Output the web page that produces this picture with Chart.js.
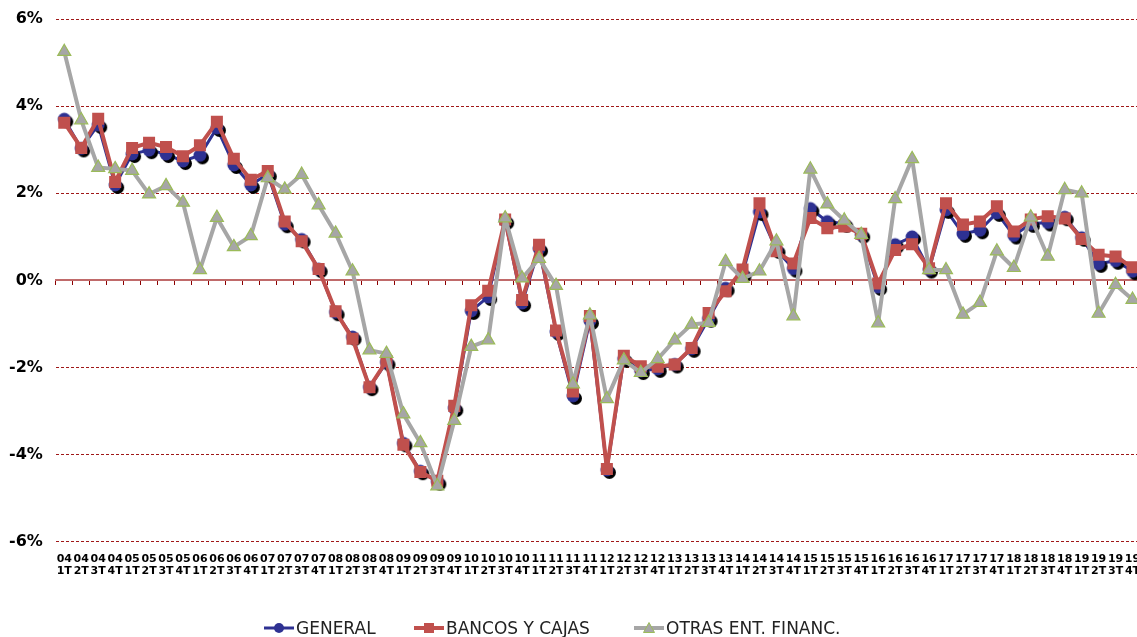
<!DOCTYPE html>
<html>
<head>
<meta charset="utf-8">
<script src="https://cdn.jsdelivr.net/npm/chart.js@4.4.0/dist/chart.umd.min.js"></script>
<style>
  html, body { margin: 0; padding: 0; background: #fff; overflow: hidden; }
  #wrap { position: relative; width: 1150px; height: 637px; }
  #myChart { display: block; }
  #legend { font-family: 'DejaVu Sans', sans-serif; font-size: 17px; color: #222; }
  .item { position: absolute; top: 618px; display: flex; align-items: center; white-space: nowrap; }
  .item canvas { margin-right: 2px; }
</style>
</head>
<body>
<div id="wrap">
  <canvas id="myChart" width="1150" height="637"></canvas>
  <div id="legend"></div>
</div>
<script>
// categories: year + quarter
const years = ['04','05','06','07','08','09','10','11','12','13','14','15','16','17','18','19'];
const quarters = ['1T','2T','3T','4T'];
const categories = years.flatMap(y => quarters.map(q => [y, q]));

const general = [
  3.70, 3.03, 3.57, 2.19, 2.90, 2.99, 2.90, 2.74, 2.87, 3.50, 2.65, 2.19, 2.44, 1.29, 0.94, 0.26,
  -0.73, -1.30, -2.45, -1.88, -3.74, -4.38, -4.62, -2.93, -0.70, -0.38, 1.37, -0.52, 0.73, -1.18, -2.65, -0.93,
  -4.35, -1.80, -2.08, -2.03, -1.93, -1.57, -0.88, -0.18, 0.15, 1.57, 0.70, 0.27, 1.65, 1.35, 1.30, 1.05,
  -0.15, 0.82, 1.00, 0.25, 1.62, 1.07, 1.15, 1.55, 1.03, 1.30, 1.33, 1.45, 0.98, 0.38, 0.45, 0.21
];
const bancos = [
  3.62, 3.04, 3.71, 2.26, 3.04, 3.16, 3.06, 2.85, 3.10, 3.64, 2.79, 2.31, 2.51, 1.35, 0.90, 0.26,
  -0.71, -1.34, -2.45, -1.85, -3.77, -4.40, -4.60, -2.88, -0.57, -0.24, 1.40, -0.45, 0.82, -1.15, -2.55, -0.82,
  -4.33, -1.73, -1.97, -1.98, -1.93, -1.55, -0.75, -0.25, 0.25, 1.77, 0.67, 0.39, 1.43, 1.20, 1.24, 1.07,
  -0.07, 0.70, 0.83, 0.28, 1.77, 1.28, 1.35, 1.70, 1.12, 1.40, 1.47, 1.42, 0.95, 0.59, 0.55, 0.30
];
const otras = [
  5.25, 3.68, 2.59, 2.56, 2.52, 1.98, 2.17, 1.79, 0.24, 1.44, 0.77, 1.02, 2.35, 2.09, 2.43, 1.73,
  1.08, 0.21, -1.60, -1.68, -3.07, -3.73, -4.72, -3.22, -1.52, -1.37, 1.43, 0.05, 0.50, -0.12, -2.38, -0.80,
  -2.72, -1.83, -2.12, -1.80, -1.37, -1.01, -0.97, 0.43, 0.04, 0.21, 0.90, -0.82, 2.55, 1.75, 1.38, 1.05,
  -0.98, 1.87, 2.79, 0.24, 0.24, -0.78, -0.51, 0.67, 0.29, 1.45, 0.55, 2.08, 2.00, -0.76, -0.10, -0.44
];
const seriesNames = ['GENERAL', 'BANCOS Y CAJAS', 'OTRAS ENT. FINANC.'];

const BLUE = '#2e3192', RED = '#c0504d', GREY = '#a6a6a6', GREEN = '#9bbb59';

// blue dot with the black drop shadow
function shadowDot() {
  const c = document.createElement('canvas');
  c.width = 24; c.height = 24;
  const g = c.getContext('2d');
  g.fillStyle = '#000';
  g.beginPath(); g.arc(14.5, 14.5, 6.5, 0, Math.PI * 2); g.fill();
  g.fillStyle = BLUE;
  g.beginPath(); g.arc(12, 12, 6.5, 0, Math.PI * 2); g.fill();
  return c;
}

// little line+marker icons for the legend
function legendIcon(kind) {
  const c = document.createElement('canvas');
  c.width = 30; c.height = 16;
  const g = c.getContext('2d');
  g.lineCap = 'butt';
  if (kind === 0) {
    g.strokeStyle = BLUE; g.lineWidth = 3;
    g.beginPath(); g.moveTo(0, 8); g.lineTo(30, 8); g.stroke();
    g.fillStyle = BLUE; g.beginPath(); g.arc(15, 8, 5, 0, Math.PI * 2); g.fill();
  } else if (kind === 1) {
    g.strokeStyle = RED; g.lineWidth = 4;
    g.beginPath(); g.moveTo(0, 8); g.lineTo(30, 8); g.stroke();
    g.fillStyle = RED; g.fillRect(10, 3, 10, 10);
  } else {
    g.strokeStyle = GREY; g.lineWidth = 4;
    g.beginPath(); g.moveTo(0, 8); g.lineTo(30, 8); g.stroke();
    g.fillStyle = GREY; g.strokeStyle = GREEN; g.lineWidth = 1;
    g.beginPath(); g.moveTo(15, 2.5); g.lineTo(20.5, 12.5); g.lineTo(9.5, 12.5); g.closePath();
    g.fill(); g.stroke();
  }
  return c;
}

const ctx = document.getElementById('myChart').getContext('2d');
const myChart = new Chart(ctx, {
  type: 'line',
  data: {
    labels: categories,
    datasets: [
      {
        label: seriesNames[0],
        data: general,
        borderColor: BLUE,
        borderWidth: 3,
        pointStyle: shadowDot(),
        pointRadius: 6,
        borderJoinStyle: 'round',
        order: 3
      },
      {
        label: seriesNames[1],
        data: bancos,
        borderColor: RED,
        backgroundColor: RED,
        borderWidth: 4,
        pointStyle: 'rect',
        pointRadius: 8.5,
        pointBorderWidth: 0,
        pointBackgroundColor: RED,
        borderJoinStyle: 'round',
        order: 2
      },
      {
        label: seriesNames[2],
        data: otras,
        borderColor: GREY,
        backgroundColor: GREY,
        borderWidth: 4,
        pointStyle: 'triangle',
        pointRadius: 7.5,
        pointBorderWidth: 1.2,
        pointBorderColor: GREEN,
        pointBackgroundColor: GREY,
        borderJoinStyle: 'round',
        order: 1
      }
    ]
  },
  options: {
    responsive: false,
    animation: false,
    events: [],
    layout: { padding: { left: 6, right: 0, top: 19, bottom: 57 } },
    plugins: {
      legend: { display: false },
      tooltip: { enabled: false }
    },
    scales: {
      x: {
        type: 'category',
        position: 'bottom',
        offset: true,
        grid: { display: false },
        border: { display: false },
        ticks: {
          autoSkip: false,
          maxRotation: 0,
          minRotation: 0,
          padding: 3,
          color: '#000',
          font: { family: 'DejaVu Sans', weight: 'bold', size: 11, lineHeight: 1.1 }
        }
      },
      // zero line with the category tick marks
      x2: {
        type: 'category',
        axis: 'x',
        position: { y: 0 },
        offset: true,
        grid: { display: true, drawOnChartArea: false, drawTicks: true, tickLength: 4, offset: true, color: '#8b0000', lineWidth: 1 },
        border: { display: true, color: '#c06a6a', width: 2 },
        ticks: { display: false }
      },
      y: {
        min: -6,
        max: 6,
        ticks: {
          stepSize: 2,
          padding: 3,
          color: '#000',
          font: { family: 'DejaVu Sans', weight: 'bold', size: 16 },
          callback: v => v + '%'
        },
        grid: {
          drawTicks: true,
          tickLength: 10,
          tickColor: 'rgba(0,0,0,0)',
          lineWidth: 1,
          color: c => c.tick && c.tick.value === 0 ? 'rgba(0,0,0,0)' : '#a01818'
        },
        border: { display: false, dash: [3, 2] }
      }
    }
  }
});

// html legend
const legendLeft = [264, 414, 634];
const legendBox = document.getElementById('legend');
seriesNames.forEach((name, i) => {
  const item = document.createElement('div');
  item.className = 'item';
  item.style.left = legendLeft[i] + 'px';
  item.appendChild(legendIcon(i));
  const span = document.createElement('span');
  span.textContent = name;
  item.appendChild(span);
  legendBox.appendChild(item);
});
</script>
</body>
</html>
